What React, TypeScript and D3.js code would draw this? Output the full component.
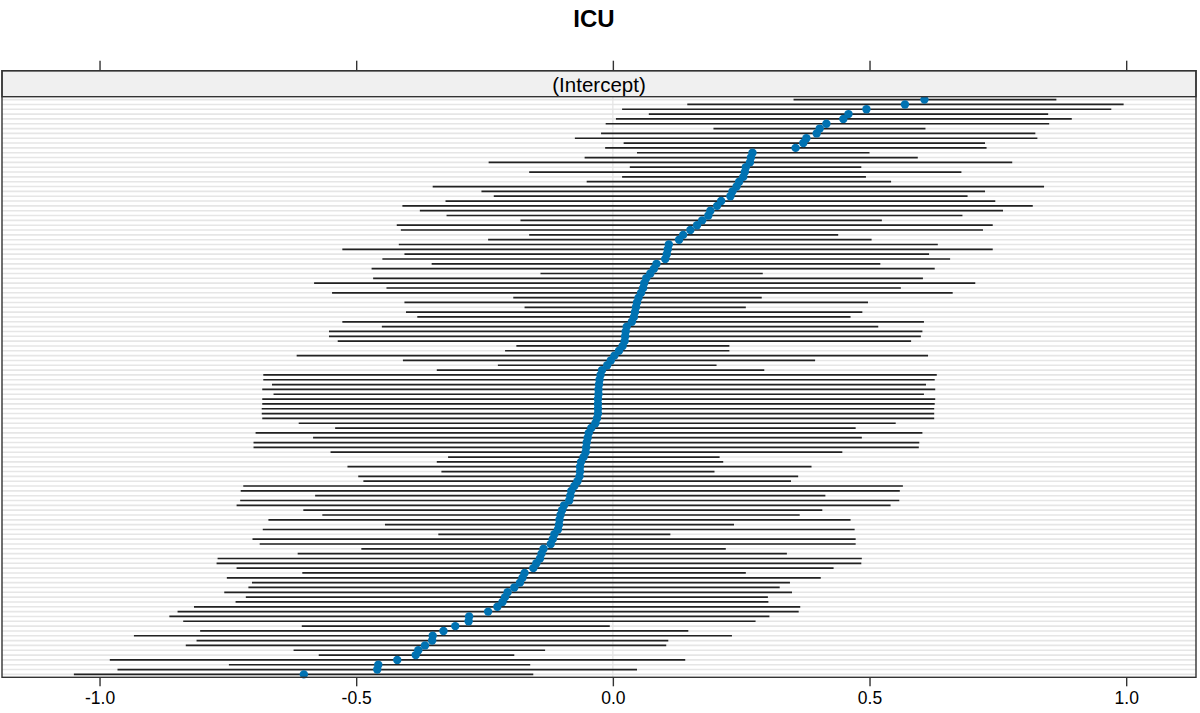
import React, { useEffect, useRef } from 'react';
import * as d3 from 'd3';

// caterpillar plot of random intercepts, rows listed top to bottom
const estimate = [
  0.607, 0.569, 0.494, 0.459, 0.449, 0.416, 0.403, 0.397, 0.377, 0.371,
  0.356, 0.272, 0.269, 0.267, 0.259, 0.257, 0.254, 0.246, 0.241, 0.233,
  0.229, 0.211, 0.203, 0.190, 0.186, 0.174, 0.164, 0.151, 0.137, 0.129,
  0.109, 0.107, 0.105, 0.102, 0.085, 0.080, 0.073, 0.065, 0.061, 0.059,
  0.055, 0.050, 0.047, 0.045, 0.043, 0.041, 0.037, 0.027, 0.025, 0.024,
  0.023, 0.019, 0.012, 0.003, -0.004, -0.011, -0.021, -0.024, -0.026, -0.027,
  -0.028, -0.028, -0.029, -0.029, -0.029, -0.029, -0.031, -0.034, -0.042, -0.047,
  -0.049, -0.051, -0.052, -0.053, -0.057, -0.062, -0.064, -0.064, -0.065, -0.069,
  -0.075, -0.081, -0.083, -0.085, -0.095, -0.099, -0.102, -0.104, -0.105, -0.107,
  -0.114, -0.117, -0.121, -0.135, -0.139, -0.142, -0.149, -0.155, -0.172, -0.176,
  -0.181, -0.192, -0.205, -0.210, -0.215, -0.225, -0.243, -0.280, -0.281, -0.307,
  -0.330, -0.351, -0.352, -0.366, -0.379, -0.384, -0.420, -0.457, -0.459, -0.602,
];

const lower = [
  0.352, 0.145, 0.018, 0.070, 0.006, -0.014, 0.196, -0.023, -0.074, 0.021,
  -0.015, 0.047, -0.055, -0.242, 0.033, -0.163, 0.018, -0.051, -0.351, -0.256,
  -0.232, -0.326, -0.410, -0.376, -0.324, -0.180, -0.421, -0.413, -0.163, -0.243,
  -0.417, -0.527, -0.406, -0.449, -0.353, -0.470, -0.141, -0.467, -0.582, -0.441,
  -0.547, -0.194, -0.406, -0.172, -0.403, -0.381, -0.527, -0.450, -0.553, -0.553,
  -0.536, -0.188, -0.210, -0.616, -0.409, -0.224, -0.343, -0.681, -0.681, -0.664,
  -0.683, -0.661, -0.683, -0.683, -0.684, -0.684, -0.683, -0.612, -0.541, -0.696,
  -0.584, -0.700, -0.700, -0.550, -0.321, -0.343, -0.517, -0.334, -0.496, -0.486,
  -0.720, -0.725, -0.580, -0.726, -0.733, -0.603, -0.566, -0.671, -0.444, -0.682,
  -0.340, -0.702, -0.688, -0.490, -0.614, -0.770, -0.772, -0.733, -0.605, -0.752,
  -0.703, -0.710, -0.757, -0.715, -0.735, -0.816, -0.848, -0.864, -0.837, -0.606,
  -0.804, -0.933, -0.811, -0.832, -0.622, -0.573, -0.980, -0.748, -0.965, -1.050,
];

const upper = [
  0.864, 0.995, 0.971, 0.848, 0.894, 0.850, 0.609, 0.823, 0.827, 0.725,
  0.728, 0.500, 0.594, 0.778, 0.484, 0.679, 0.493, 0.542, 0.840, 0.725,
  0.691, 0.745, 0.818, 0.760, 0.681, 0.524, 0.740, 0.721, 0.439, 0.504,
  0.633, 0.740, 0.616, 0.657, 0.521, 0.627, 0.292, 0.604, 0.706, 0.561,
  0.662, 0.290, 0.497, 0.259, 0.486, 0.463, 0.606, 0.517, 0.603, 0.600,
  0.581, 0.227, 0.227, 0.614, 0.394, 0.202, 0.295, 0.631, 0.627, 0.610,
  0.628, 0.606, 0.628, 0.627, 0.626, 0.626, 0.626, 0.551, 0.473, 0.603,
  0.485, 0.597, 0.596, 0.447, 0.208, 0.215, 0.387, 0.198, 0.361, 0.347,
  0.565, 0.559, 0.414, 0.558, 0.541, 0.408, 0.364, 0.463, 0.236, 0.471,
  0.112, 0.473, 0.473, 0.220, 0.339, 0.485, 0.484, 0.430, 0.259, 0.405,
  0.345, 0.325, 0.349, 0.302, 0.303, 0.365, 0.362, 0.305, 0.278, -0.006,
  0.147, 0.232, 0.108, 0.104, -0.132, -0.192, 0.141, -0.161, 0.047, -0.155,
];

const xTicks = [-1.0, -0.5, 0.0, 0.5, 1.0];
const title = 'ICU';
const stripLabel = '(Intercept)';

const W = 1200;
const H = 713;
const FONT = '"Liberation Sans", Arial, Helvetica, sans-serif';

export default function App() {
  const ref = useRef<SVGSVGElement | null>(null);

  useEffect(() => {
    document.body.style.margin = '0';
    const svg = d3.select(ref.current);
    svg.selectAll('*').remove();

    const left = 2, right = 1196;
    const panelTop = 70.7, stripBottom = 96.7, panelBottom = 677.3;

    const x = d3.scaleLinear().domain([-1.19, 1.136]).range([left, right]);
    const rows = d3.range(estimate.length);
    const y = d3.scalePoint<number>().domain(rows).range([stripBottom, panelBottom]).padding(0.6);

    // title
    svg.append('text')
      .attr('x', 594).attr('y', 27)
      .attr('text-anchor', 'middle')
      .style('font-family', FONT).style('font-weight', 'bold').style('font-size', '24px')
      .text(title);

    // background grid per row
    const g = svg.append('g');
    g.selectAll('line.grid')
      .data(rows)
      .enter().append('line')
      .attr('class', 'grid')
      .attr('x1', left).attr('x2', right)
      .attr('y1', d => y(d)!).attr('y2', d => y(d)!)
      .attr('stroke', '#e6e6e6').attr('stroke-width', 1.6);

    // reference line at zero
    g.append('line')
      .attr('x1', x(0)).attr('x2', x(0))
      .attr('y1', stripBottom).attr('y2', panelBottom)
      .attr('stroke', '#e3e3e3').attr('stroke-width', 1.2);

    // intervals
    g.selectAll('line.ci')
      .data(rows)
      .enter().append('line')
      .attr('class', 'ci')
      .attr('x1', d => x(lower[d])).attr('x2', d => x(upper[d]))
      .attr('y1', d => y(d)!).attr('y2', d => y(d)!)
      .attr('stroke', '#222').attr('stroke-width', 1.7);

    // points
    g.selectAll('circle')
      .data(rows)
      .enter().append('circle')
      .attr('cx', d => x(estimate[d])).attr('cy', d => y(d)!)
      .attr('r', 4.2)
      .attr('fill', '#0072b2');

    // strip
    svg.append('rect')
      .attr('x', left).attr('y', panelTop)
      .attr('width', right - left).attr('height', stripBottom - panelTop)
      .attr('fill', '#f0f0f0').attr('stroke', '#333').attr('stroke-width', 1.4);
    svg.append('text')
      .attr('x', (left + right) / 2).attr('y', 92)
      .attr('text-anchor', 'middle')
      .style('font-family', FONT).style('font-size', '20.5px')
      .text(stripLabel);

    // panel border
    svg.append('rect')
      .attr('x', left).attr('y', panelTop)
      .attr('width', right - left).attr('height', panelBottom - panelTop)
      .attr('fill', 'none').attr('stroke', '#333').attr('stroke-width', 1.4);

    // axes: labels at bottom, bare ticks on top
    const bottomAxis = d3.axisBottom(x).tickValues(xTicks).tickFormat(d3.format('.1f')).tickSize(9).tickPadding(5);
    const bAx = svg.append('g').attr('transform', `translate(0,${panelBottom})`).call(bottomAxis);
    bAx.select('.domain').remove();
    bAx.selectAll('line').attr('stroke', '#333').attr('stroke-width', 1.4);
    bAx.selectAll('text')
      .style('font-family', FONT).style('font-size', '17.5px').attr('fill', '#000')
      .text(d => d3.format('.1f')(d as number).replace('−', '-'));

    const topAxis = d3.axisTop(x).tickValues(xTicks).tickFormat(() => '').tickSize(10);
    const tAx = svg.append('g').attr('transform', `translate(0,${panelTop})`).call(topAxis);
    tAx.select('.domain').remove();
    tAx.selectAll('line').attr('stroke', '#333').attr('stroke-width', 1.4);
  }, []);

  return (
    <div style={{ position: 'absolute', left: 0, top: 0, width: W, height: H, background: '#fff' }}>
      <svg ref={ref} width={W} height={H} style={{ display: 'block' }} />
    </div>
  );
}
